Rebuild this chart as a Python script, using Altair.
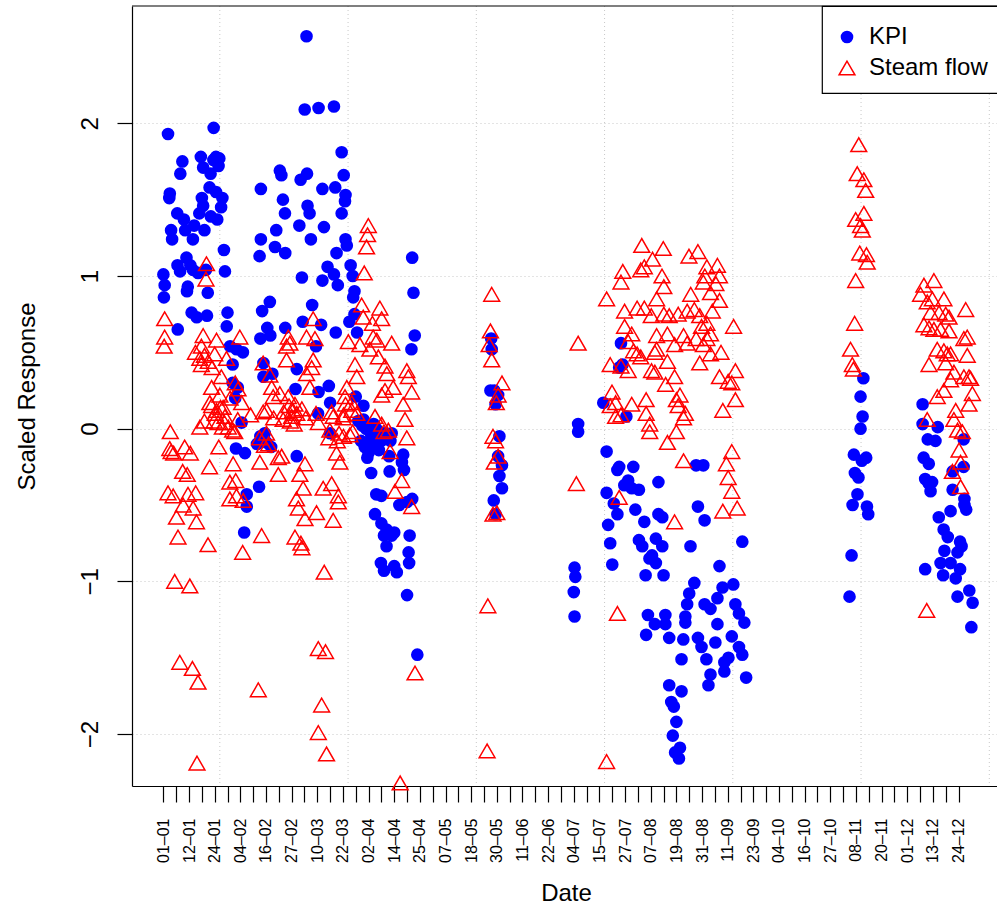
import json
import altair as alt
import pandas as pd

FONT = "Liberation Sans"

# ---- axis text -------------------------------------------------------------
date_labels = ["01-01", "12-01", "24-01", "04-02", "16-02", "27-02", "10-03", "22-03",
               "02-04", "14-04", "25-04", "07-05", "18-05", "30-05", "11-06", "22-06",
               "04-07", "15-07", "27-07", "07-08", "19-08", "31-08", "11-09", "23-09",
               "04-10", "16-10", "27-10", "08-11", "20-11", "01-12", "13-12", "24-12"]
first_tick = 28
tick_step = 5
n_ticks = 63
grid_x = [50, 100, 150, 200, 250, 300, 350]
y_ticks = [-2, -1, 0, 1, 2]
series_names = ["KPI", "Steam flow"]

# ---- KPI (index, scaled response) --------------------------------------------
kpi_jan_feb = [
    (29.8, 1.93), (47.6, 1.97), (35.4, 1.75), (34.6, 1.67), (42.6, 1.78), (43.5, 1.71), (47.5, 1.76),
    (48.5, 1.78), (49.5, 1.72), (49.8, 1.77), (46.4, 1.67), (30.5, 1.54), (30.3, 1.51), (46.0, 1.58),
    (48.5, 1.55), (51.0, 1.51), (50.5, 1.45), (43.0, 1.51), (43.5, 1.46), (33.4, 1.41), (36.0, 1.37),
    (42.0, 1.41), (46.5, 1.39), (49.0, 1.37), (31.0, 1.30), (31.4, 1.24), (36.5, 1.30), (39.5, 1.24),
    (40.0, 1.33), (44.0, 1.30), (33.5, 1.07), (37.0, 1.12), (38.5, 1.07), (34.5, 1.03), (39.5, 1.04),
    (41.5, 1.02), (44.6, 1.04), (51.6, 1.17), (52.0, 1.03), (28.0, 1.01), (28.5, 0.94), (28.2, 0.86),
    (37.5, 0.93), (37.2, 0.90), (45.3, 0.89), (39.0, 0.76), (41.0, 0.73), (45.0, 0.74), (53.0, 0.76),
    (52.7, 0.67), (33.6, 0.65),
    (66.0, 1.57), (73.4, 1.69), (74.0, 1.66), (74.6, 1.50), (75.4, 1.41), (66.0, 1.24), (65.5, 1.13),
    (72.0, 1.30), (71.5, 1.19), (75.5, 1.15), (69.5, 0.83), (66.5, 0.77), (68.5, 0.66), (65.8, 0.59),
    (69.7, 0.61), (75.5, 0.66), (54.0, 0.54), (56.5, 0.52), (59.0, 0.50), (55.0, 0.42), (55.0, 0.30),
    (57.0, 0.27), (56.0, 0.20), (58.5, 0.04), (67.0, 0.43), (70.5, 0.36), (67.0, 0.34), (67.5, -0.03),
    (64.5, -0.10), (56.3, -0.13), (59.8, -0.16), (65.8, -0.05), (68.2, -0.09), (70.0, -0.12),
    (65.3, -0.38), (60.5, -0.43), (60.5, -0.51), (59.5, -0.68),
]
kpi_mar_apr = [
    (83.8, 2.57), (83.1, 2.09), (88.5, 2.10), (94.5, 2.11), (97.5, 1.81), (98.3, 1.66), (81.5, 1.63),
    (84.0, 1.67), (90.0, 1.57), (95.0, 1.58), (84.2, 1.46), (85.0, 1.41), (99.0, 1.53), (98.8, 1.49),
    (97.5, 1.41), (81.0, 1.33), (90.6, 1.32), (85.5, 1.24), (99.0, 1.24), (99.5, 1.20), (95.5, 1.15),
    (92.0, 1.06), (94.5, 1.01), (96.0, 0.94), (90.0, 0.97), (82.0, 0.99), (101.0, 1.07), (101.8, 1.00),
    (102.5, 0.90), (102.0, 0.86), (125.0, 1.12), (125.5, 0.89), (126.0, 0.61), (124.7, 0.52),
    (86.0, 0.81), (82.3, 0.70), (89.5, 0.68), (95.2, 0.63), (102.5, 0.75), (100.5, 0.70), (103.5, 0.63),
    (87.5, 0.54), (88.5, 0.24), (92.5, 0.28), (93.0, 0.17), (88.3, 0.10), (80.0, 0.39), (79.5, 0.26),
    (103.0, 0.21), (106.0, 0.15), (93.0, -0.03), (80.0, -0.18),
    (104.0, 0.05), (105.5, 0.02), (107.0, 0.00), (108.5, -0.02), (110.0, 0.03), (111.5, -0.05),
    (113.0, -0.08), (105.0, -0.08), (106.5, -0.12), (108.0, -0.16), (110.5, -0.10), (112.0, -0.14),
    (114.0, -0.03), (106.0, 0.06), (109.0, -0.06), (111.0, 0.00), (107.5, -0.19), (109.0, -0.29),
    (111.0, -0.43), (113.0, -0.44), (110.5, -0.56), (113.0, -0.62), (115.0, -0.66), (114.0, -0.70),
    (117.0, -0.70), (115.0, -0.77), (118.0, -0.68), (112.8, -0.88), (114.0, -0.93), (118.0, -0.90),
    (119.0, -0.94), (116.0, -0.18), (116.2, -0.28), (121.5, -0.17), (121.0, -0.22), (121.8, -0.27),
    (120.0, -0.50), (123.0, -0.48), (125.0, -0.46), (124.0, -0.70), (123.6, -0.81), (123.8, -0.88),
    (123.0, -1.09), (127.0, -1.48), (117.0, -0.03), (116.5, -0.08),
]
kpi_may = [
    (155.8, 0.59), (156.0, 0.52), (155.5, 0.25), (157.0, 0.25), (158.5, 0.22),
    (157.5, 0.16), (159.0, -0.05), (158.5, -0.18), (160.0, -0.24), (159.0, -0.31), (160.0, -0.39),
    (156.8, -0.47), (157.5, -0.56),
]
kpi_jul_sep = [
    (189.7, 0.03), (189.7, -0.02), (206.4, 0.56), (207.0, 0.42), (205.7, 0.40), (208.5, 0.08),
    (199.5, 0.17), (200.8, -0.15), (205.7, -0.25), (205.0, -0.27), (211.2, -0.25), (209.2, -0.34),
    (207.7, -0.37), (210.6, -0.39), (213.4, -0.40), (221.0, -0.35), (200.8, -0.42), (203.6, -0.49),
    (205.0, -0.56), (212.0, -0.53), (215.5, -0.61), (221.0, -0.56), (222.5, -0.58), (201.4, -0.63),
    (202.2, -0.75), (213.4, -0.73), (214.7, -0.77), (220.0, -0.72), (222.5, -0.77), (217.5, -0.85),
    (220.0, -0.88), (218.5, -0.83), (203.0, -0.89), (216.0, -0.96), (223.0, -0.96),
    (235.7, -0.24), (238.5, -0.24), (236.4, -0.51), (239.0, -0.60), (233.5, -0.77), (244.8, -0.90),
    (253.7, -0.74), (188.3, -0.91), (188.6, -0.97), (188.0, -1.07), (188.3, -1.23),
    (235.0, -1.01), (233.0, -1.08), (232.2, -1.15), (231.5, -1.23), (231.5, -1.27), (239.0, -1.15),
    (241.3, -1.18), (244.0, -1.11), (244.0, -1.28), (246.0, -1.04), (250.2, -1.02), (251.0, -1.15),
    (252.4, -1.21), (254.5, -1.27), (249.6, -1.36), (248.3, -1.50), (252.4, -1.43), (253.7, -1.48),
    (216.9, -1.22), (219.6, -1.28), (216.2, -1.35), (223.7, -1.22), (223.7, -1.28), (225.2, -1.37),
    (230.7, -1.38), (236.4, -1.37), (237.8, -1.43), (239.7, -1.51), (241.3, -1.61), (240.5, -1.68),
    (243.2, -1.40), (246.7, -1.53), (246.7, -1.59), (255.2, -1.63), (230.0, -1.51),
    (225.2, -1.68), (230.0, -1.72), (226.0, -1.79), (227.0, -1.82), (228.0, -1.92), (226.6, -2.01),
    (229.4, -2.09), (227.5, -2.12), (229.0, -2.16),
]
kpi_nov = [
    (300.9, 0.33), (299.8, 0.21), (300.6, 0.08), (299.8, 0.00), (297.2, -0.17), (300.3, -0.21),
    (302.0, -0.19), (297.6, -0.29), (299.0, -0.32), (298.6, -0.43), (296.7, -0.50), (302.3, -0.51),
    (302.8, -0.56), (296.3, -0.83), (295.5, -1.10),
]
kpi_dec = [
    (324.0, 0.16), (324.0, 0.03), (329.9, 0.01), (326.0, -0.07), (329.0, -0.08), (340.0, -0.07),
    (324.4, -0.19), (326.4, -0.23), (340.0, -0.25), (335.7, -0.28), (325.0, -0.33), (326.4, -0.36),
    (327.7, -0.35), (327.1, -0.41), (335.7, -0.40), (340.3, -0.46), (340.3, -0.50), (341.0, -0.53),
    (334.9, -0.54), (330.3, -0.58), (332.2, -0.66), (333.8, -0.71), (338.6, -0.74), (339.2, -0.77),
    (337.6, -0.81), (332.5, -0.80), (331.0, -0.88), (334.9, -0.88), (338.6, -0.92), (332.0, -0.96),
    (336.9, -0.98), (337.6, -1.10), (342.2, -1.06), (343.5, -1.14), (343.0, -1.30), (325.0, -0.92),
]

# ---- Steam flow (index, scaled response) -------------------------------------
steam_jan_feb = [
    (28.5, 0.72), (28.5, 0.60), (28.3, 0.54), (44.8, 1.08), (44.6, 0.98), (43.5, 0.61), (42.8, 0.54),
    (42.2, 0.46), (42.8, 0.42), (48.7, 0.58), (48.0, 0.49), (52.6, 0.46), (57.8, 0.60), (46.8, 0.27),
    (50.6, 0.34), (57.1, 0.26), (58.5, 0.17), (46.1, 0.17), (48.7, 0.12), (51.3, 0.14), (49.3, 0.04),
    (53.3, 0.01), (55.8, -0.02), (66.9, 0.43), (69.5, 0.35), (70.2, 0.27), (70.8, 0.21), (73.4, 0.23),
    (68.2, 0.12), (74.7, 0.06), (76.0, 0.54), (76.7, 0.60), (68.2, -0.03), (40.5, 0.50), (44.0, 0.48),
    (45.5, 0.44), (47.0, 0.40), (56.0, 0.30), (50.0, 0.22), (54.0, 0.20), (52.0, 0.08), (44.0, 0.05),
    (57.0, 0.06), (62.0, 0.09),
    (30.7, -0.02), (42.2, 0.01), (49.6, -0.12), (30.5, -0.13), (31.0, -0.15), (36.3, -0.12),
    (38.5, -0.16), (32.0, -0.16), (46.0, -0.25), (35.5, -0.28), (37.3, -0.30), (29.8, -0.42),
    (31.8, -0.44), (37.6, -0.43), (40.6, -0.42), (35.7, -0.50), (39.6, -0.52), (33.1, -0.58),
    (40.9, -0.61), (33.7, -0.71), (45.4, -0.76), (32.4, -1.00), (38.3, -1.03), (34.4, -1.53),
    (39.3, -1.57), (41.5, -1.66), (41.1, -2.19), (53.9, -0.35), (56.2, -0.34), (53.9, -0.46),
    (59.1, -0.47), (56.5, -0.44), (55.2, -0.23), (65.6, -0.22), (72.8, -0.30), (66.3, -0.70),
    (58.9, -0.81), (65.0, -1.71), (74.1, -0.18), (46.8, 0.15), (50.3, 0.14), (48.2, 0.10), (47.8, 0.05),
    (51.8, 0.04), (55.0, -0.01), (51.0, 0.01), (66.9, 0.11), (65.5, -0.06), (71.0, 0.07), (74.9, 0.11),
    (67.4, -0.11), (72.8, -0.19), (69.0, -0.10),
]
steam_mar_apr = [
    (107.9, 1.33), (107.6, 1.27), (107.2, 1.19), (106.3, 1.02), (105.3, 0.81), (112.4, 0.79),
    (105.9, 0.73), (113.1, 0.72), (109.5, 0.69), (109.8, 0.60), (111.2, 0.58), (117.0, 0.56),
    (108.5, 0.52), (111.8, 0.47), (114.4, 0.41), (102.7, 0.42), (103.4, 0.34), (115.1, 0.36),
    (100.1, 0.57), (104.6, 0.55), (122.9, 0.38), (123.5, 0.34), (124.8, 0.24), (121.5, 0.16),
    (122.2, 0.06), (122.9, -0.06), (117.6, 0.27), (114.4, 0.25), (113.1, 0.22), (86.4, 0.72),
    (83.8, 0.60), (87.1, 0.59), (86.4, 0.45), (85.8, 0.40), (83.8, 0.36), (85.1, 0.27), (77.3, 0.56),
    (76.0, 0.45), (99.5, 0.27), (98.8, 0.21), (101.4, 0.17), (103.4, 0.10), (98.1, 0.07), (94.2, 0.08),
    (88.4, 0.04), (76.7, 0.21), (79.3, 0.16), (78.0, 0.08), (92.9, -0.01), (98.2, -0.05), (95.8, -0.08),
    (100.7, -0.04),
    (120.9, -0.34), (118.3, -0.41), (124.8, -0.51), (116.4, -0.15), (115.7, -0.01), (83.2, -0.23),
    (81.2, -0.30), (82.5, -0.39), (79.9, -0.46), (80.6, -0.52), (83.2, -0.59), (79.3, -0.71),
    (81.6, -0.75), (82.0, -0.78), (90.3, -0.39), (93.6, -0.36), (96.2, -0.44), (96.2, -0.48),
    (87.7, -0.55), (94.2, -0.60), (96.8, -0.22), (95.5, -0.16), (90.7, -0.94), (88.4, -1.44),
    (91.2, -1.46), (89.7, -1.81), (88.4, -1.99), (91.6, -2.13), (126.1, -1.60), (120.3, -2.32),
    (77.0, 0.15), (78.5, 0.12), (80.0, 0.10), (82.0, 0.13), (83.5, 0.07), (79.0, 0.03), (77.5, 0.05),
    (87.5, 0.10), (93.6, 0.11), (98.2, 0.09), (99.0, 0.16), (101.4, 0.12), (101.8, -0.02), (96.5, -0.03),
    (92.5, -0.06), (110.5, 0.08), (113.1, 0.03), (114.0, -0.02),
]
steam_may = [
    (156.0, 0.88), (155.5, 0.64), (155.0, 0.55), (156.0, 0.45), (158.5, 0.22), (157.8, 0.17),
    (156.5, -0.05), (157.5, -0.08), (158.5, -0.18), (157.0, -0.22), (156.5, -0.56), (154.5, -1.16),
    (154.2, -2.11), (160.0, 0.30), (158.0, -0.55),
]
steam_jul_sep = [
    (189.7, 0.56), (189.0, -0.36), (200.8, 0.85), (205.0, -1.21), (200.8, -2.18), (214.5, 1.20),
    (222.9, 1.18), (218.7, 1.11), (232.9, 1.13), (236.4, 1.16), (239.9, 1.06), (244.0, 1.07),
    (239.1, 1.00), (244.8, 1.00), (207.1, 1.03), (206.4, 0.96), (214.1, 1.04), (215.5, 1.06),
    (222.4, 1.00), (223.1, 0.93), (233.6, 0.88), (241.3, 0.89), (243.4, 0.95), (244.8, 0.84),
    (238.5, 0.96), (220.3, 0.85), (212.7, 0.79), (215.5, 0.79), (207.8, 0.77), (218.2, 0.74),
    (223.1, 0.75), (225.2, 0.74), (228.7, 0.75), (232.2, 0.77), (235.0, 0.78), (237.1, 0.74),
    (242.0, 0.77), (239.9, 0.69), (237.8, 0.67), (241.3, 0.62), (239.9, 0.59), (250.3, 0.67),
    (207.8, 0.67), (210.6, 0.62), (209.2, 0.57), (220.3, 0.61), (224.5, 0.62), (227.3, 0.55),
    (230.8, 0.61), (232.2, 0.56), (235.7, 0.59), (238.5, 0.55), (220.3, 0.52), (211.3, 0.51),
    (212.7, 0.49), (214.1, 0.47), (219.6, 0.50), (241.3, 0.49), (245.4, 0.50), (224.5, 0.44),
    (237.1, 0.43), (202.2, 0.42), (206.4, 0.41), (209.2, 0.38), (218.3, 0.38), (219.6, 0.37),
    (244.8, 0.34), (248.2, 0.31), (251.0, 0.38), (249.6, 0.30), (227.3, 0.34), (223.8, 0.29),
    (229.4, 0.22), (228.7, 0.15), (228.0, 0.19), (230.8, 0.07), (231.5, 0.10), (202.9, 0.24),
    (204.3, 0.17), (202.2, 0.15), (210.6, 0.16), (216.2, 0.19), (216.2, 0.10), (217.6, 0.03),
    (217.6, -0.02), (204.3, 0.08), (206.4, 0.09), (246.1, 0.12), (251.0, 0.19), (224.5, -0.09),
    (228.0, -0.02), (230.8, -0.21), (249.6, -0.15), (247.5, -0.23), (248.2, -0.32), (249.6, -0.41),
    (246.1, -0.54), (251.7, -0.52), (205.7, -0.45), (227.3, -0.61),
]
steam_nov = [
    (299.1, 1.86), (298.5, 1.67), (301.1, 1.63), (301.8, 1.56), (301.1, 1.41), (297.9, 1.37),
    (299.8, 1.33), (300.5, 1.30), (299.5, 1.15), (302.1, 1.14), (302.4, 1.09), (297.9, 0.97),
    (297.5, 0.69), (295.9, 0.52), (296.6, 0.42), (297.0, 0.39),
]
steam_dec = [
    (328.4, 0.97), (324.5, 0.94), (323.2, 0.88), (327.8, 0.85), (332.3, 0.85), (325.8, 0.83),
    (327.1, 0.76), (330.4, 0.76), (333.0, 0.75), (334.3, 0.73), (340.8, 0.78), (324.5, 0.68),
    (326.5, 0.66), (328.4, 0.65), (331.0, 0.65), (334.3, 0.64), (340.1, 0.59), (341.4, 0.60),
    (329.7, 0.52), (332.3, 0.51), (333.6, 0.49), (334.9, 0.49), (341.4, 0.48), (326.5, 0.42),
    (333.0, 0.43), (336.2, 0.37), (340.1, 0.34), (342.1, 0.34), (342.7, 0.33), (334.9, 0.32),
    (343.4, 0.23), (342.1, 0.16), (329.7, 0.21), (332.3, 0.25), (325.8, 0.06), (336.9, 0.12),
    (336.2, 0.06), (337.6, -0.01), (339.5, -0.02), (338.2, -0.14), (338.8, -0.22), (335.6, -0.28),
    (338.8, -0.38), (325.6, -1.19),
]

kpi_groups = [kpi_jan_feb, kpi_mar_apr, kpi_may, kpi_jul_sep, kpi_nov, kpi_dec]
steam_groups = [steam_jan_feb, steam_mar_apr, steam_may, steam_jul_sep, steam_nov, steam_dec]

rows = []
for grp in kpi_groups:
    for u, v in grp:
        rows.append({"u": u, "v": v, "series": "KPI"})
for grp in steam_groups:
    for u, v in grp:
        rows.append({"u": u, "v": v, "series": "Steam flow"})
df = pd.DataFrame(rows)
grid_df = pd.DataFrame({"u": grid_x})

# ---- layout ------------------------------------------------------------------
W, H = 865, 780
x_scale = alt.Scale(domain=[15.76, 353.0], nice=False, zero=False)
y_scale = alt.Scale(domain=[-2.34, 2.768], nice=False, zero=False)

tick_values = [first_tick + tick_step * k for k in range(n_ticks)]
shown = [s.replace("-", "\u2013") for s in date_labels]
label_expr = (
    f"(round((datum.value - {first_tick}) / {tick_step}) % 2 == 0) ? "
    f"{json.dumps(shown, ensure_ascii=False)}[round((datum.value - {first_tick}) / {2 * tick_step})] : ''"
)

x_axis = alt.Axis(
    values=tick_values, labelExpr=label_expr, title="Date", grid=False,
    tickSize=16, tickColor="black", tickWidth=1.2, domainColor="black", domainWidth=1.2,
    labelAngle=270, labelAlign="right", labelBaseline="middle", labelPadding=16,
    labelFontSize=16, labelFont=FONT, labelColor="black", labelOverlap=False, labelFlush=False,
    titleFontSize=24, titleFont=FONT, titleFontWeight="normal", titleColor="black",
    titleX=434, titleY=114, titleAlign="center", titleBaseline="alphabetic",
)
y_axis = alt.Axis(
    values=y_ticks, format="d", title="Scaled Response",
    grid=True, gridColor="#C8C8C8", gridDash=[1, 3], gridWidth=1,
    tickSize=15, tickColor="black", tickWidth=1.2, domainColor="black", domainWidth=1.2,
    labelAngle=270, labelAlign="center", labelBaseline="alphabetic", labelPadding=20,
    labelFontSize=24, labelFont=FONT, labelColor="black", labelOverlap=False, labelFlush=False,
    titleFontSize=24, titleFont=FONT, titleFontWeight="normal", titleColor="black",
    titleAngle=270, titleX=-98, titleY=390, titleAlign="center", titleBaseline="alphabetic",
)

legend = alt.Legend(
    title=" ", titleFontSize=1, titlePadding=5, orient="none", legendX=690, legendY=0,
    direction="vertical", strokeColor="black", fillColor="white", padding=13, cornerRadius=0,
    labelFontSize=24, labelFont=FONT, labelColor="black", labelOffset=10,
    rowPadding=7, symbolStrokeWidth=1.5,
)

grid_layer = alt.Chart(grid_df).mark_rule(color="#C8C8C8", strokeDash=[1, 3], strokeWidth=1).encode(
    x=alt.X("u:Q", scale=x_scale, axis=x_axis)
)

points = alt.Chart(df).mark_point(opacity=1, strokeWidth=1.5).encode(
    x=alt.X("u:Q", scale=x_scale, axis=x_axis),
    y=alt.Y("v:Q", scale=y_scale, axis=y_axis),
    shape=alt.Shape("series:N", scale=alt.Scale(domain=series_names, range=["circle", "triangle-up"]), legend=legend),
    fill=alt.Fill("series:N", scale=alt.Scale(domain=series_names, range=["#0000FF", "transparent"]), legend=legend),
    stroke=alt.Stroke("series:N", scale=alt.Scale(domain=series_names, range=["transparent", "#FF0000"]), legend=legend),
    size=alt.Size("series:N", scale=alt.Scale(domain=series_names, range=[160, 250]), legend=legend),
)

top_border = alt.Chart(pd.DataFrame({"k": [0]})).mark_rule(color="black", strokeWidth=1.2).encode(
    x=alt.value(0), x2=alt.value(W), y=alt.value(0)
)

chart = alt.layer(grid_layer, points, top_border).properties(
    width=W, height=H, autosize="none",
    padding={"left": 132, "top": 6, "right": 0, "bottom": 122},
    background="white",
).configure_view(stroke=None).configure_legend(strokeWidth=1.2)

chart.save("out.html", embed_options={"renderer": "svg", "actions": False})
